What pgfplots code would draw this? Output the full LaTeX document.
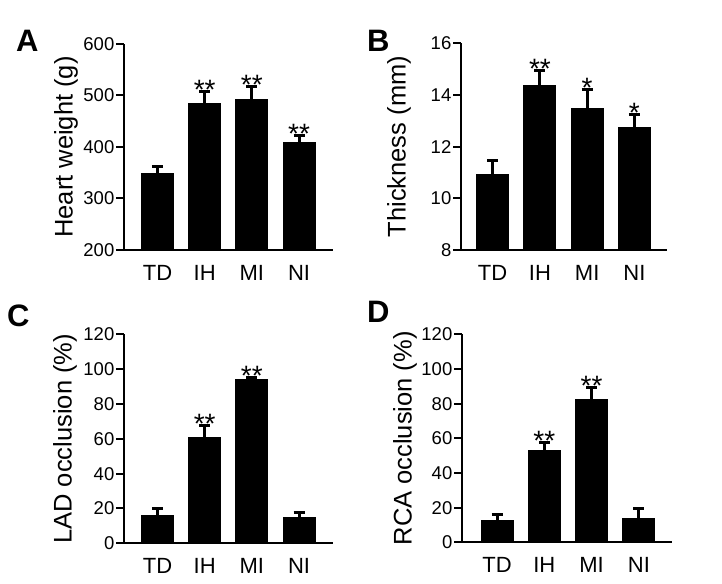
\documentclass[border=0pt]{standalone}
\usepackage{fontspec}
\setmainfont{Liberation Sans}
\usepackage{pgfplots}
\pgfplotsset{compat=1.18}
\pgfplotsset{
  panel/.style={
    scale only axis,
    axis lines=left,
    axis line style={line width=2.2pt, -},
    tick align=outside,
    major tick length=8pt,
    ytick style={line width=2pt, black},
    xtick style={draw=none},
    xtick={0,1,2,3},
    xticklabels={TD,IH,MI,NI},
    xticklabel style={font=\fontsize{22}{24}\selectfont, inner sep=0pt, anchor=north, yshift=-7pt},
    yticklabel style={font=\fontsize{18.5}{20}\selectfont, inner sep=0pt, xshift=-1.5pt},
    /pgf/number format/assume math mode=true,
    ylabel style={font=\fontsize{25.5}{28}\selectfont, anchor=center},
    clip=false,
  },
  bars/.style={ybar, bar width=32pt, fill=black, draw=black, line width=1pt,
    error bars/.cd, y dir=plus, y explicit, error mark=-,
    error bar style={line width=3pt, black},
    error mark options={rotate=90, line width=3pt, mark size=5.5pt, black}},
  stars/.style={draw=none, mark=none, nodes near coords, point meta=explicit symbolic,
    every node near coord/.style={anchor=base, inner sep=0pt, yshift=-8pt, font=\fontsize{28}{30}\selectfont}},
}
\begin{document}
\begin{tikzpicture}[x=1pt,y=1pt]
\useasboundingbox (0,0) rectangle (722,583);
% Panel A
\begin{axis}[panel, at={(124pt,333pt)}, anchor=south west, width=209pt, height=206pt,
  xmin=-0.71, xmax=3.72, ymin=200, ymax=600, ytick={200,300,400,500,600},
  ylabel={Heart weight (g)}, ylabel style={at={(axis description cs:-0.277,0.5)}}]
\addplot[bars] table[x=x, y=y, y error=e] {
x y e
0 349 14
1 485 23
2 493 24
3 409 14
};
\addplot[stars] table[x=x, y=y, meta=s] {
x y s
1 508 **
2 517 **
3 423 **
};
\end{axis}
% Panel B
\begin{axis}[panel, at={(461pt,333pt)}, anchor=south west, width=206pt, height=206.7pt,
  xmin=-0.67, xmax=3.69, ymin=8, ymax=16, ytick={8,10,12,14,16},
  ylabel={Thickness (mm)}, ylabel style={at={(axis description cs:-0.301,0.5)}}]
\addplot[bars] table[x=x, y=y, y error=e] {
x y e
0 10.94 0.52
1 14.35 0.59
2 13.48 0.74
3 12.73 0.50
};
\addplot[stars] table[x=x, y=y, meta=s] {
x y s
1 14.94 **
2 14.22 *
3 13.23 *
};
\end{axis}
% Panel C
\begin{axis}[panel, at={(124pt,39.7pt)}, anchor=south west, width=209pt, height=209pt,
  xmin=-0.71, xmax=3.72, ymin=0, ymax=120, ytick={0,20,40,60,80,100,120},
  ylabel={LAD occlusion (\%)}, ylabel style={at={(axis description cs:-0.282,0.5)}}]
\addplot[bars] table[x=x, y=y, y error=e] {
x y e
0 16.2 3.9
1 60.9 7.0
2 93.8 1.3
3 14.9 2.9
};
\addplot[stars] table[x=x, y=y, meta=s] {
x y s
1 67.9 **
2 95.1 **
};
\end{axis}
% Panel D
\begin{axis}[panel, at={(462pt,40.7pt)}, anchor=south west, width=210pt, height=208pt,
  xmin=-0.74, xmax=3.7, ymin=0, ymax=120, ytick={0,20,40,60,80,100,120},
  ylabel={RCA occlusion (\%)}, ylabel style={at={(axis description cs:-0.271,0.5)}}]
\addplot[bars] table[x=x, y=y, y error=e] {
x y e
0 12.3 4.0
1 52.7 4.8
2 82.1 7.2
3 13.8 5.8
};
\addplot[stars] table[x=x, y=y, meta=s] {
x y s
1 57.5 **
2 89.3 **
};
\end{axis}
\node[anchor=base west, inner sep=0pt, font=\fontsize{31}{33}\selectfont\bfseries] at (16,531) {A};
\node[anchor=base west, inner sep=0pt, font=\fontsize{31}{33}\selectfont\bfseries] at (367,531) {B};
\node[anchor=base west, inner sep=0pt, font=\fontsize{31}{33}\selectfont\bfseries] at (7,256) {C};
\node[anchor=base west, inner sep=0pt, font=\fontsize{31}{33}\selectfont\bfseries] at (367,260) {D};
\end{tikzpicture}
\end{document}
